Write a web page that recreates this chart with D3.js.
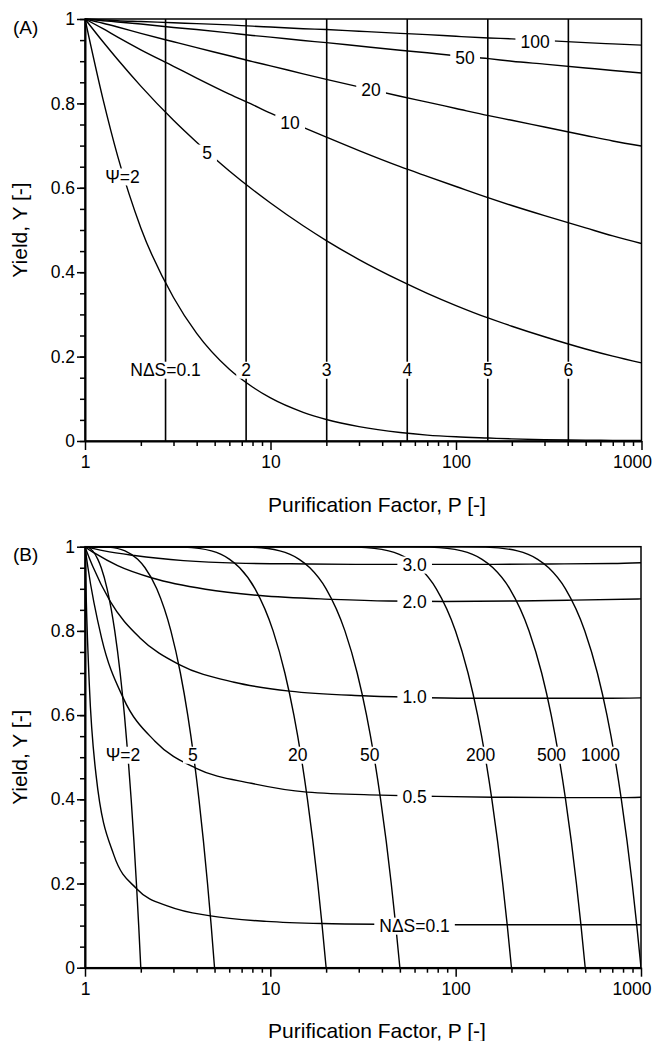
<!DOCTYPE html>
<html>
<head>
<meta charset="utf-8">
<script src="https://cdn.jsdelivr.net/npm/d3@7"></script>
<style>
  body { margin: 0; background: #fff; }
  svg text { font-family: "Liberation Sans", Arial, Helvetica, sans-serif; fill: #000; }
</style>
</head>
<body>
<div id="chart"></div>
<script>
// ---------- panel (A) ----------
const pA = [1, 1.25, 1.5, 2, 3, 4, 6, 8, 10, 15, 20, 30, 50, 70, 100, 150, 200, 300, 500, 700, 1000];
const yA_psi2   = [1, 0.810, 0.675, 0.505, 0.340, 0.255, 0.170, 0.128, 0.102, 0.068, 0.051, 0.034, 0.020, 0.014, 0.010, 0.007, 0.005, 0.003, 0.002, 0.0014, 0.001];
const yA_psi5   = [1, 0.946, 0.904, 0.841, 0.760, 0.708, 0.640, 0.596, 0.564, 0.510, 0.475, 0.430, 0.380, 0.350, 0.321, 0.291, 0.272, 0.247, 0.218, 0.201, 0.185];
const yA_psi10  = [1, 0.977, 0.957, 0.927, 0.888, 0.860, 0.822, 0.797, 0.777, 0.743, 0.720, 0.688, 0.650, 0.627, 0.603, 0.576, 0.558, 0.534, 0.505, 0.486, 0.468];
const yA_psi20  = [1, 0.990, 0.981, 0.966, 0.946, 0.932, 0.913, 0.899, 0.889, 0.870, 0.857, 0.839, 0.817, 0.803, 0.788, 0.771, 0.760, 0.744, 0.724, 0.711, 0.699];
const yA_psi50  = [1, 0.996, 0.993, 0.988, 0.980, 0.975, 0.967, 0.961, 0.957, 0.949, 0.944, 0.936, 0.926, 0.920, 0.913, 0.906, 0.900, 0.893, 0.884, 0.878, 0.872];
const yA_psi100 = [1, 0.998, 0.996, 0.994, 0.991, 0.989, 0.986, 0.983, 0.981, 0.977, 0.975, 0.971, 0.966, 0.963, 0.959, 0.955, 0.953, 0.949, 0.944, 0.941, 0.938];
const seriesA = [yA_psi2, yA_psi5, yA_psi10, yA_psi20, yA_psi50, yA_psi100];
// label text and its anchor (P, Y) for each curve
const labelsA = [
  { text: "Ψ=2", p: 1.593, y: 0.626 },
  { text: "5",   p: 4.55,  y: 0.6825 },
  { text: "10",  p: 12.74, y: 0.7536 },
  { text: "20",  p: 34.8,  y: 0.8318 },
  { text: "50",  p: 111.8, y: 0.9076 },
  { text: "100", p: 266.7, y: 0.9455 }
];
// constant-NΔS lines
const nsLinesA  = [2.718, 7.389, 20.09, 54.6, 148.4, 403.4];
const nsLabelsA = ["NΔS=0.1", "2", "3", "4", "5", "6"];
const nsLabelYA = 0.168;

// ---------- panel (B) ----------
const yLevelsB = [1, 0.9999, 0.999, 0.99, 0.97, 0.95, 0.9, 0.8, 0.7, 0.6, 0.5, 0.4, 0.3, 0.2, 0.1, 0];
const pB_psi2    = [1, 1.01, 1.0316, 1.1, 1.1732, 1.2236, 1.3162, 1.4472, 1.5477, 1.6325, 1.7071, 1.7746, 1.8367, 1.8944, 1.9487, 2];
const pB_psi5    = [1, 1.188, 1.334, 1.645, 1.924, 2.108, 2.439, 2.907, 3.271, 3.584, 3.864, 4.120, 4.357, 4.582, 4.796, 5];
const pB_psi20   = [1, 2.71, 3.421, 4.813, 6.032, 6.83, 8.276, 10.35, 11.98, 13.40, 14.68, 15.86, 16.97, 18.03, 19.03, 20];
const pB_psi50   = [1, 5.945, 7.742, 11.25, 14.32, 16.34, 20.0, 25.26, 29.42, 33.04, 36.32, 39.35, 42.21, 44.91, 47.50, 50];
const pB_psi200  = [1, 22.22, 29.43, 43.49, 55.81, 63.90, 78.62, 99.81, 116.6, 131.3, 144.5, 156.8, 168.4, 179.4, 189.9, 200];
const pB_psi500  = [1, 54.78, 72.81, 107.98, 138.8, 159.0, 195.9, 248.9, 291.1, 327.7, 360.9, 391.7, 420.7, 448.2, 474.6, 500];
const pB_psi1000 = [1, 109.06, 145.1, 215.5, 277.1, 317.6, 391.3, 497.5, 581.7, 655.1, 721.6, 783.2, 841.2, 896.4, 949.1, 1000];
const psiSeriesB = [pB_psi2, pB_psi5, pB_psi20, pB_psi50, pB_psi200, pB_psi500, pB_psi1000];
const psiLabelsB = ["Ψ=2", "5", "20", "50", "200", "500", "1000"];
const psiLabelPB = [1.603, 3.82, 14.07, 34.4, 136.4, 329, 605];
const psiLabelYB = 0.505;

const pB_ns30 = [1, 1.0024, 1.05, 1.27, 1.85, 3.4, 6.6, 16, 32, 64, 160, 320, 700, 1000];
const yB_ns30 = [1, 0.9999, 0.998, 0.990, 0.979, 0.967, 0.961, 0.959, 0.958, 0.958, 0.958, 0.959, 0.960, 0.962];
const pB_ns20 = [1, 1.016, 1.135, 1.50, 2.33, 4.47, 8.79, 21.8, 43.4, 86.6, 216, 432, 1000];
const yB_ns20 = [1, 0.9975, 0.984, 0.955, 0.925, 0.899, 0.884, 0.875, 0.871, 0.870, 0.871, 0.873, 0.876];
const pB_ns10 = [1, 1.0043, 1.023, 1.099, 1.368, 1.974, 3.226, 6.38, 12.7, 31.7, 63.3, 126, 316, 632, 1000];
const yB_ns10 = [1, 0.9975, 0.988, 0.954, 0.870, 0.784, 0.720, 0.678, 0.657, 0.646, 0.642, 0.640, 0.640, 0.640, 0.641];
const pB_ns05 = [1, 1.0027, 1.035, 1.229, 1.607, 2.385, 3.955, 7.89, 15.76, 39.4, 78.7, 157, 394, 787, 1000];
const yB_ns05 = [1, 0.996, 0.953, 0.783, 0.641, 0.538, 0.474, 0.438, 0.417, 0.410, 0.407, 0.405, 0.404, 0.404, 0.405];
const pB_ns01 = [1, 1.015, 1.055, 1.147, 1.43, 1.905, 2.856, 4.76, 9.52, 19.0, 47.6, 95, 190, 476, 1000];
const yB_ns01 = [1, 0.880, 0.672, 0.458, 0.268, 0.187, 0.145, 0.123, 0.110, 0.105, 0.103, 0.102, 0.102, 0.102, 0.102];
const nsSeriesB = [[pB_ns30, yB_ns30], [pB_ns20, yB_ns20], [pB_ns10, yB_ns10], [pB_ns05, yB_ns05], [pB_ns01, yB_ns01]];
const nsLabelsB = ["3.0", "2.0", "1.0", "0.5", "NΔS=0.1"];
const nsLabelPB = 60;
const nsLabelYB = [0.9565, 0.8694, 0.643, 0.4055, 0.099];

// ---------- axes ticks ----------
const xMajor = [1, 10, 100, 1000];
const xMinor = [2, 3, 4, 5, 6, 7, 8, 9, 20, 30, 40, 50, 60, 70, 80, 90, 200, 300, 400, 500, 600, 700, 800, 900];
const yMajor = [0, 0.2, 0.4, 0.6, 0.8, 1];
const yMinor = d3.range(0, 21).map(i => i / 20);

const W = 654, H = 1041;
const fontTick = 17.5, fontTitle = 21;

const svg = d3.select("#chart").append("svg").attr("width", W).attr("height", H);
const defs = svg.append("defs");

// one knockout mask per panel: every label blanks whatever runs under it
function makeMask(id) {
  const m = defs.append("mask").attr("id", id).attr("maskUnits", "userSpaceOnUse")
    .attr("x", 0).attr("y", 0).attr("width", W).attr("height", H);
  m.append("rect").attr("width", W).attr("height", H).attr("fill", "white");
  return m;
}

function addLabel(P, px, py, text) {
  const t = P.labels.append("text")
    .attr("x", px).attr("y", py).attr("dy", "0.35em")
    .attr("text-anchor", "middle")
    .style("font-size", fontTick + "px")
    .text(text);
  const b = t.node().getBBox();
  P.mask.append("rect")
    .attr("x", b.x - 5).attr("y", b.y + 1.5)
    .attr("width", b.width + 10).attr("height", b.height - 3)
    .attr("fill", "black");
}

function makePanel(box, tag) {
  const x = d3.scaleLog().domain([1, 1000]).range([box.left, box.right]);
  const y = d3.scaleLinear().domain([0, 1]).range([box.bottom, box.top]);
  const g = svg.append("g");

  const clipId = "clip" + tag;
  defs.append("clipPath").attr("id", clipId)
    .append("rect").attr("x", box.left).attr("y", box.top - 1)
    .attr("width", box.right - box.left).attr("height", box.bottom - box.top + 1);
  const mask = makeMask("knock" + tag);

  // frame
  g.append("rect")
    .attr("x", box.left).attr("y", box.top)
    .attr("width", box.right - box.left).attr("height", box.bottom - box.top)
    .attr("fill", "none").attr("stroke", "#000").attr("stroke-width", 1.5);

  // x axis: minor then major
  g.append("g").attr("transform", `translate(0,${box.bottom})`)
    .call(d3.axisBottom(x).tickValues(xMinor).tickSize(5).tickSizeOuter(0).tickFormat(""))
    .call(a => a.select(".domain").remove())
    .call(a => a.selectAll("line").attr("stroke-width", 1.5));
  const xa = g.append("g").attr("transform", `translate(0,${box.bottom})`)
    .call(d3.axisBottom(x).tickValues(xMajor).tickSize(9).tickSizeOuter(0).tickPadding(6).tickFormat(d3.format("d")))
    .attr("font-size", null).attr("font-family", null);
  xa.select(".domain").attr("stroke-width", 2);
  xa.selectAll("line").attr("stroke-width", 1.5);
  xa.selectAll("text").style("font-size", fontTick + "px");
  xa.selectAll("text").filter(d => d === 1000).attr("text-anchor", "end").attr("x", 10);

  // y axis: minor then major
  g.append("g").attr("transform", `translate(${box.left},0)`)
    .call(d3.axisLeft(y).tickValues(yMinor).tickSize(5).tickSizeOuter(0).tickFormat(""))
    .call(a => a.select(".domain").remove())
    .call(a => a.selectAll("line").attr("stroke-width", 1.5));
  const ya = g.append("g").attr("transform", `translate(${box.left},0)`)
    .call(d3.axisLeft(y).tickValues(yMajor).tickSize(8).tickSizeOuter(0).tickPadding(2).tickFormat(d => String(d)))
    .attr("font-size", null).attr("font-family", null);
  ya.select(".domain").attr("stroke-width", 2);
  ya.selectAll("line").attr("stroke-width", 1.5);
  ya.selectAll("text").style("font-size", fontTick + "px");

  // titles
  svg.append("text")
    .attr("x", 377).attr("y", box.bottom + 70.5)
    .attr("text-anchor", "middle").style("font-size", fontTitle + "px")
    .text("Purification Factor, P [-]");
  svg.append("text")
    .attr("transform", `translate(27,${(box.top + box.bottom) / 2}) rotate(-90)`)
    .attr("text-anchor", "middle").style("font-size", fontTitle + "px")
    .text("Yield, Y [-]");
  svg.append("text")
    .attr("x", 13).attr("y", box.top + 14.5)
    .style("font-size", "19px")
    .text(`(${tag})`);

  const plot = g.append("g").attr("clip-path", `url(#${clipId})`)
    .append("g").attr("mask", `url(#knock${tag})`);
  const labels = g.append("g");
  return { x, y, plot, labels, mask };
}

function drawCurve(P, ps, ys) {
  const line = d3.line()
    .x((d, i) => P.x(ps[i]))
    .y((d, i) => P.y(ys[i]))
    .curve(d3.curveMonotoneX);
  P.plot.append("path")
    .attr("d", line(ps))
    .attr("fill", "none").attr("stroke", "#000").attr("stroke-width", 1.4);
}

// ----- draw (A) -----
const A = makePanel({ left: 85, right: 641.5, top: 19, bottom: 441 }, "A");

nsLinesA.forEach((p, i) => {
  A.plot.append("line")
    .attr("x1", A.x(p)).attr("x2", A.x(p))
    .attr("y1", A.y(0)).attr("y2", A.y(1))
    .attr("stroke", "#000").attr("stroke-width", 1.6);
  addLabel(A, A.x(p), A.y(nsLabelYA), nsLabelsA[i]);
});

seriesA.forEach((ys, i) => {
  drawCurve(A, pA, ys);
  const lb = labelsA[i];
  addLabel(A, A.x(lb.p), A.y(lb.y), lb.text);
});

// ----- draw (B) -----
const B = makePanel({ left: 85, right: 641, top: 546.7, bottom: 967.7 }, "B");

nsSeriesB.forEach(([ps, ys], i) => {
  drawCurve(B, ps, ys);
  addLabel(B, B.x(nsLabelPB), B.y(nsLabelYB[i]), nsLabelsB[i]);
});

psiSeriesB.forEach((ps, i) => {
  drawCurve(B, ps, yLevelsB);
  addLabel(B, B.x(psiLabelPB[i]), B.y(psiLabelYB), psiLabelsB[i]);
});
</script>
</body>
</html>
